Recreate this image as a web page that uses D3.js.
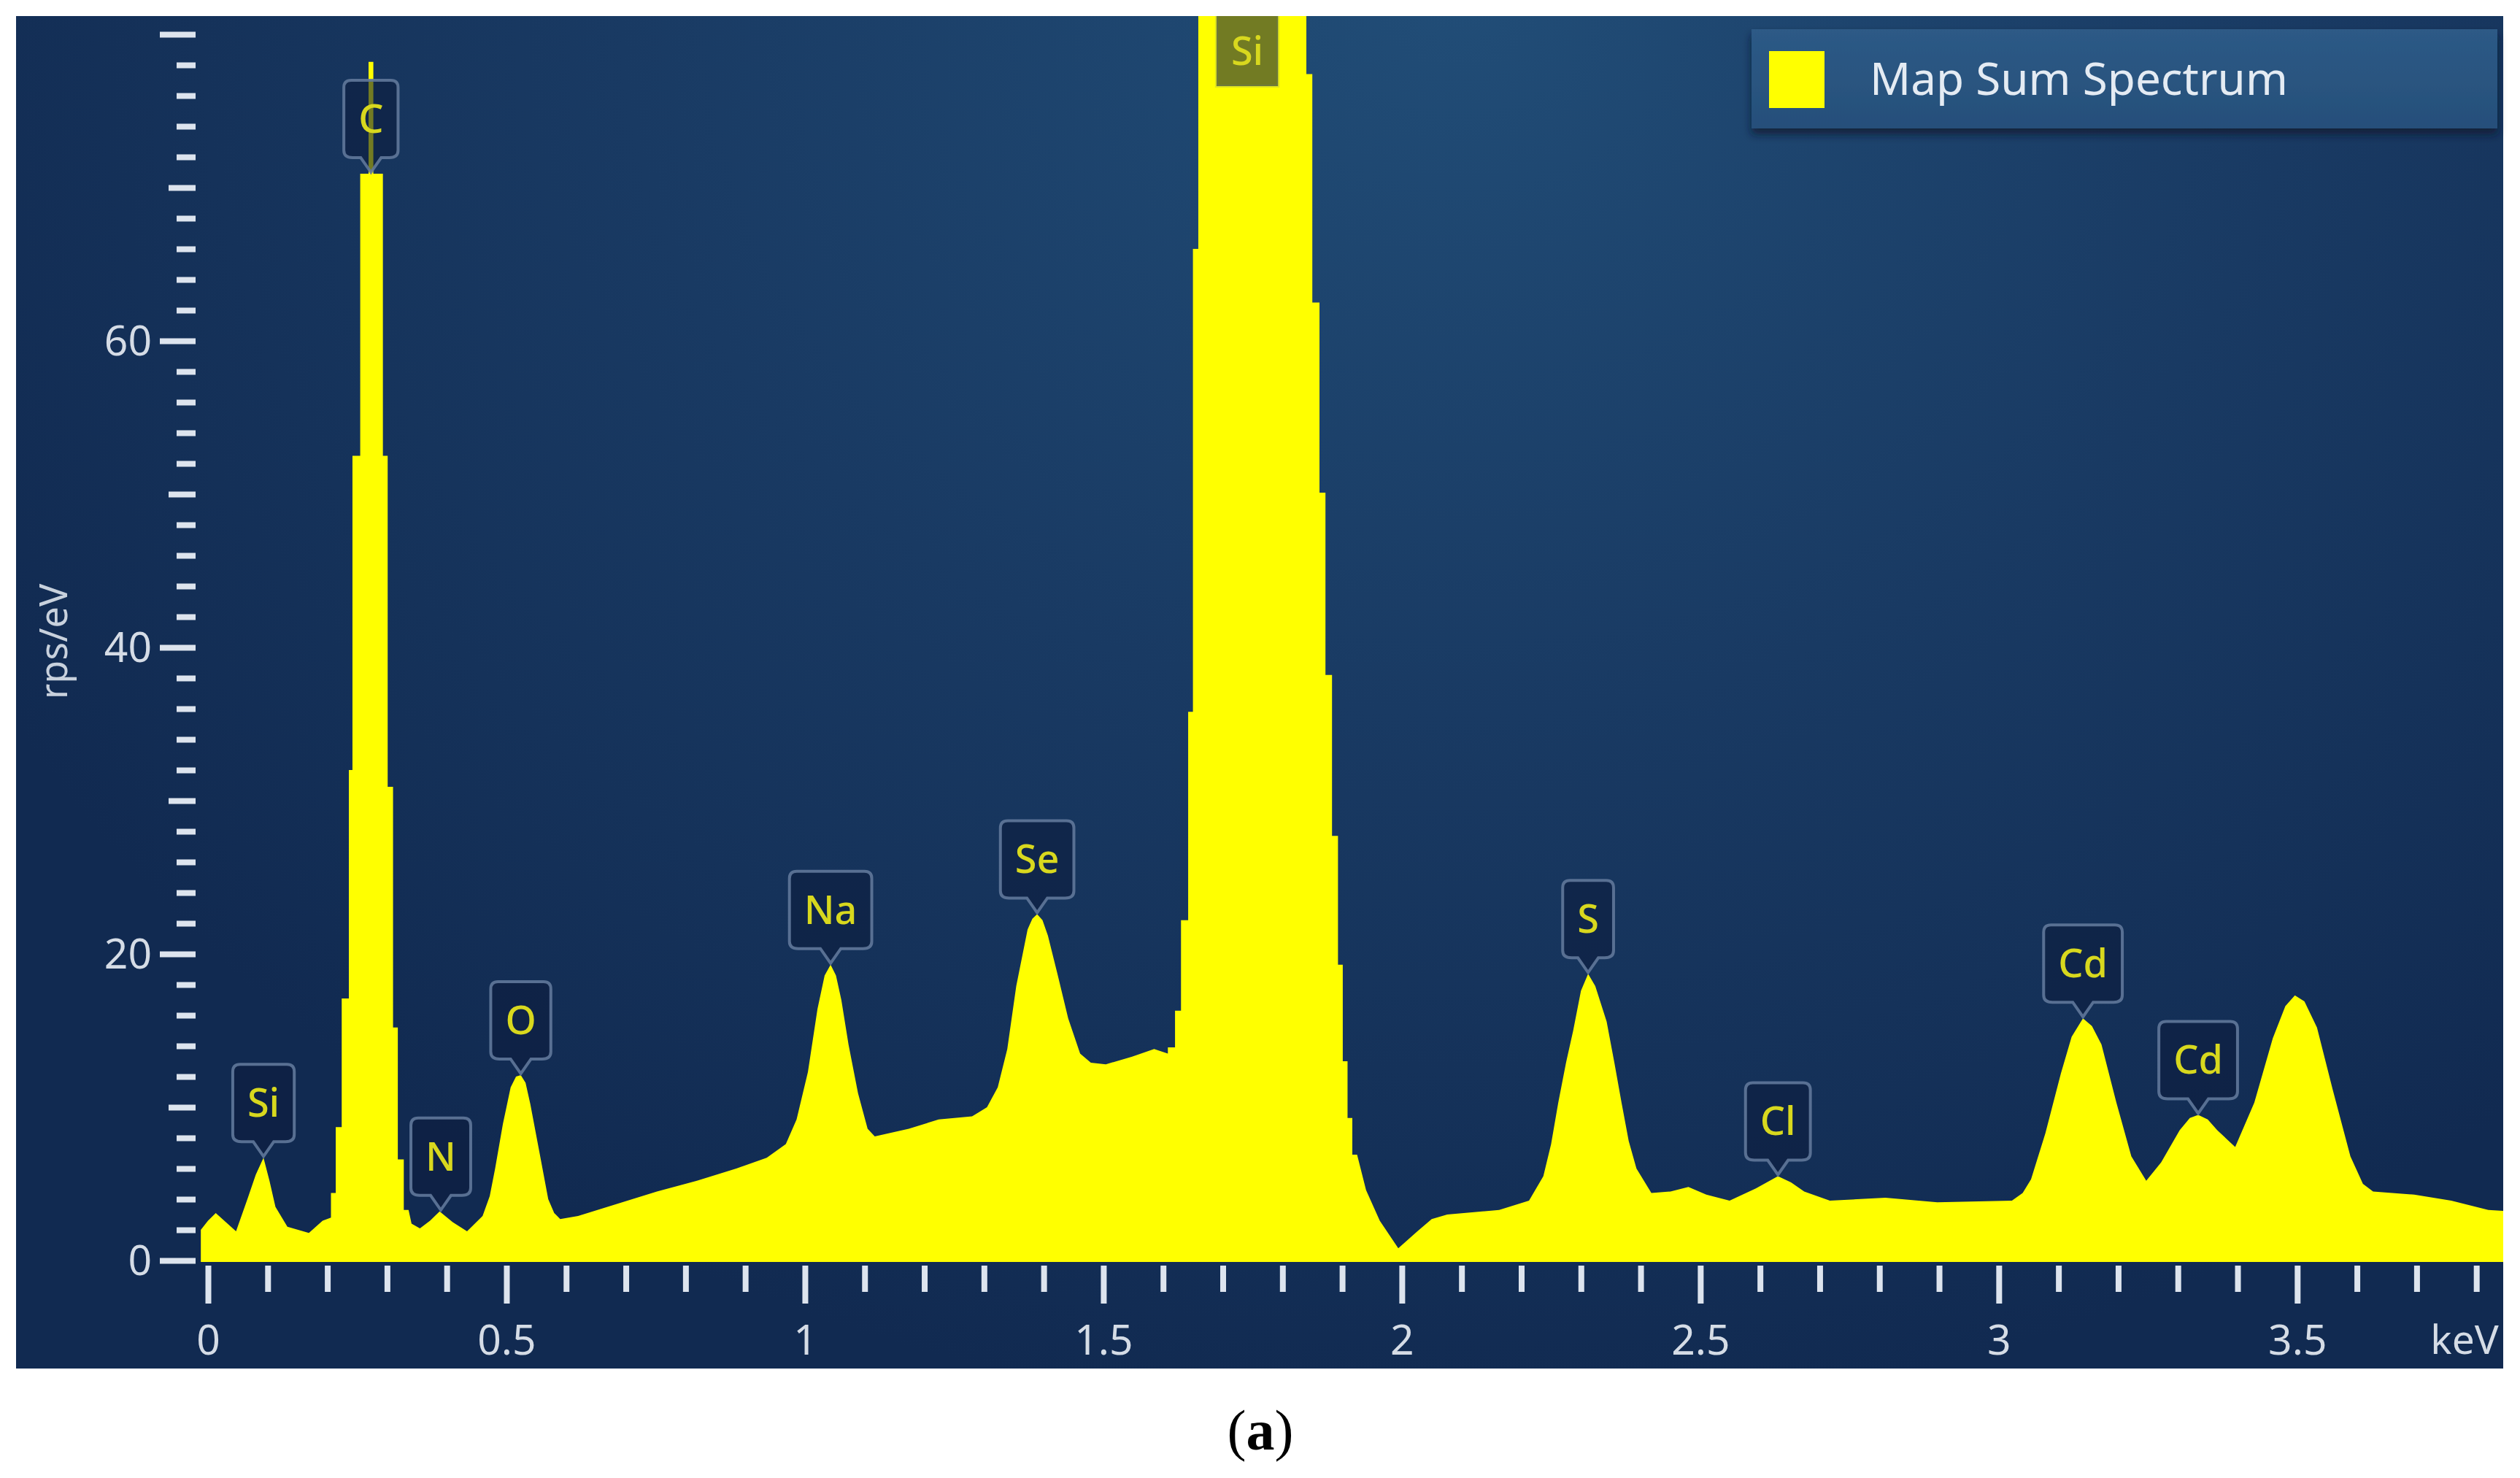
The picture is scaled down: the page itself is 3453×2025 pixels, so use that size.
<!DOCTYPE html>
<html>
<head>
<meta charset="utf-8">
<script src="https://cdn.jsdelivr.net/npm/d3@7"></script>
<style>
body { margin: 0; background: #ffffff; }
svg { display: block; }
.axis .tick text { font-family: "Noto Sans", sans-serif; fill: #d5dce6; }
</style>
</head>
<body>
<svg id="chart"></svg>
<script>
// EDS spectrum, values: [keV, rps/eV]
var spectrum = [
    [-0.012, 2.0], [0.000, 2.6], [0.013, 3.1], [0.030, 2.5], [0.047, 1.9], [0.066, 4.0],
    [0.080, 5.6], [0.093, 6.7], [0.103, 5.2], [0.113, 3.5], [0.133, 2.2], [0.169, 1.8],
    [0.192, 2.6], [0.206, 2.8], [0.206, 4.4], [0.214, 4.4], [0.214, 8.7], [0.224, 8.7],
    [0.224, 17.1], [0.236, 17.1], [0.236, 32.0], [0.242, 32.0], [0.242, 52.5], [0.255, 52.5],
    [0.255, 70.9], [0.269, 70.9], [0.269, 78.2], [0.277, 78.2], [0.277, 70.9], [0.293, 70.9],
    [0.293, 52.5], [0.301, 52.5], [0.301, 30.9], [0.310, 30.9], [0.310, 15.2], [0.318, 15.2],
    [0.318, 6.6], [0.328, 6.6], [0.328, 3.3], [0.336, 3.3], [0.341, 2.4], [0.355, 2.1],
    [0.372, 2.6], [0.388, 3.2], [0.410, 2.5], [0.434, 1.9], [0.460, 2.9], [0.472, 4.2],
    [0.481, 6.0], [0.494, 8.9], [0.507, 11.3], [0.516, 12.0], [0.524, 12.1], [0.532, 11.6],
    [0.540, 10.2], [0.556, 6.9], [0.570, 4.0], [0.580, 3.1], [0.590, 2.7], [0.620, 2.9],
    [0.686, 3.7], [0.752, 4.5], [0.819, 5.2], [0.885, 6.0], [0.936, 6.7], [0.968, 7.6],
    [0.986, 9.2], [1.005, 12.3], [1.021, 16.4], [1.033, 18.6], [1.043, 19.3], [1.052, 18.6],
    [1.061, 17.0], [1.073, 14.1], [1.089, 10.9], [1.105, 8.6], [1.117, 8.1], [1.174, 8.6],
    [1.224, 9.2], [1.280, 9.4], [1.305, 10.0], [1.323, 11.3], [1.339, 13.8], [1.354, 17.9],
    [1.373, 21.6], [1.381, 22.3], [1.389, 22.6], [1.398, 22.2], [1.407, 21.2], [1.423, 18.7],
    [1.441, 15.8], [1.461, 13.5], [1.479, 12.9], [1.504, 12.8], [1.548, 13.3], [1.585, 13.8],
    [1.608, 13.5], [1.608, 13.9], [1.620, 13.9], [1.620, 16.3], [1.630, 16.3], [1.630, 22.2],
    [1.642, 22.2], [1.642, 35.8], [1.650, 35.8], [1.650, 66.0], [1.659, 66.0], [1.659, 95],
    [1.700, 120], [1.750, 125], [1.800, 120], [1.840, 95], [1.840, 77.4], [1.850, 77.4],
    [1.850, 62.5], [1.862, 62.5], [1.862, 50.1], [1.872, 50.1], [1.872, 38.2], [1.883, 38.2],
    [1.883, 27.7], [1.893, 27.7], [1.893, 19.3], [1.901, 19.3], [1.901, 13.0], [1.909, 13.0],
    [1.909, 9.3], [1.917, 9.3], [1.917, 6.9], [1.925, 6.9], [1.940, 4.6], [1.963, 2.6],
    [1.994, 0.8], [2.026, 1.9], [2.050, 2.7], [2.076, 3.0], [2.163, 3.3], [2.213, 3.9],
    [2.237, 5.5], [2.250, 7.6], [2.262, 10.3], [2.275, 12.9], [2.287, 15.0], [2.300, 17.6],
    [2.312, 18.7], [2.324, 17.9], [2.343, 15.6], [2.356, 12.9], [2.368, 10.3], [2.380, 7.8],
    [2.393, 6.0], [2.418, 4.4], [2.450, 4.5], [2.480, 4.8], [2.510, 4.3], [2.549, 3.9],
    [2.593, 4.7], [2.630, 5.5], [2.652, 5.1], [2.674, 4.5], [2.717, 3.9], [2.810, 4.1],
    [2.897, 3.8], [3.022, 3.9], [3.040, 4.4], [3.054, 5.3], [3.078, 8.3], [3.104, 12.2],
    [3.122, 14.6], [3.141, 15.8], [3.156, 15.3], [3.172, 14.1], [3.197, 10.3], [3.222, 6.8],
    [3.247, 5.2], [3.272, 6.4], [3.303, 8.5], [3.320, 9.3], [3.334, 9.5], [3.350, 9.2],
    [3.366, 8.5], [3.396, 7.4], [3.428, 10.3], [3.459, 14.5], [3.480, 16.6], [3.496, 17.3],
    [3.512, 16.9], [3.533, 15.2], [3.559, 11.2], [3.589, 6.8], [3.610, 5.0], [3.627, 4.5],
    [3.696, 4.3], [3.758, 3.9], [3.820, 3.3], [3.857, 3.2]
];

// peak markers (null rate = peak runs off the top of the plot)
var peakNames = ["Si", "C", "N", "O", "Na", "Se", "Si", "S", "Cl", "Cd", "Cd"];
var peakKeV = [0.093, 0.273, 0.390, 0.524, 1.043, 1.389, 1.741, 2.312, 2.630, 3.141, 3.334];
var peakRate = [6.7, 70.9, 3.2, 12.1, 19.3, 22.6, null, 18.7, 5.5, 15.8, 9.5];

var xTickLabels = ["0", "0.5", "1", "1.5", "2", "2.5", "3", "3.5"];
var yTickLabels = ["0", "20", "40", "60"];
var xUnit = "keV";
var yTitle = "rps/eV";
var legendLabel = "Map Sum Spectrum";
var caption = "a";

// page and panel geometry
var width = 3453;
var height = 2025;
var panel = {left: 22, top: 22, right: 3430, bottom: 1875};
var plot = {left: 274, top: 22, right: 3430, bottom: 1730};

var svg = d3.select("#chart")
    .attr("width", width)
    .attr("height", height);

var defs = svg.append("defs");

var bg = defs.append("radialGradient")
    .attr("id", "bg")
    .attr("gradientUnits", "userSpaceOnUse")
    .attr("cx", 2000).attr("cy", 0).attr("r", 2300)
    .attr("gradientTransform", "translate(2000,0) scale(1,0.85) translate(-2000,0)");
bg.append("stop").attr("offset", "0%").attr("stop-color", "#214d77");
bg.append("stop").attr("offset", "50%").attr("stop-color", "#193a63");
bg.append("stop").attr("offset", "100%").attr("stop-color", "#112a51");

var lg = defs.append("linearGradient")
    .attr("id", "legendFill")
    .attr("x1", 0).attr("y1", 0).attr("x2", 0).attr("y2", 1);
lg.append("stop").attr("offset", "0%").attr("stop-color", "#2d5a86");
lg.append("stop").attr("offset", "100%").attr("stop-color", "#264f7a");

var shadow = defs.append("filter")
    .attr("id", "shadow")
    .attr("x", "-5%").attr("y", "-20%").attr("width", "110%").attr("height", "160%");
shadow.append("feDropShadow")
    .attr("dx", 0).attr("dy", 8)
    .attr("stdDeviation", 6)
    .attr("flood-color", "#071733")
    .attr("flood-opacity", 0.8);

defs.append("clipPath")
    .attr("id", "plotClip")
    .append("rect")
    .attr("x", plot.left)
    .attr("y", plot.top)
    .attr("width", plot.right - plot.left)
    .attr("height", plot.bottom - plot.top);

// panel background
svg.append("rect")
    .attr("x", panel.left)
    .attr("y", panel.top)
    .attr("width", panel.right - panel.left)
    .attr("height", panel.bottom - panel.top)
    .attr("fill", "url(#bg)");

var x = d3.scaleLinear()
    .domain([0, 3.845])
    .range([285, 3430]);

var y = d3.scaleLinear()
    .domain([0, 80])
    .range([1727, 47]);

// spectrum fill
var area = d3.area()
    .x(function(d) { return x(d[0]); })
    .y0(y(0) + 2)
    .y1(function(d) { return y(d[1]); });

svg.append("path")
    .datum(spectrum)
    .attr("clip-path", "url(#plotClip)")
    .attr("fill", "#ffff00")
    .attr("d", area);

// y axis: ticks every 2, longer every 10 and 20
var yTicks = d3.range(0, 41).map(function(i) { return i * 2; });
var yAxis = d3.axisLeft(y)
    .tickValues(yTicks)
    .tickFormat(function(d) {
        return (d % 20 === 0 && d / 20 < yTickLabels.length) ? yTickLabels[d / 20] : "";
    });

var yg = svg.append("g")
    .attr("class", "axis")
    .attr("transform", "translate(268,0)")
    .call(yAxis);
yg.select(".domain").remove();
yg.selectAll(".tick line")
    .attr("stroke", "#dde4ee")
    .attr("stroke-width", 8)
    .attr("x2", function(d) { return d % 20 === 0 ? -49 : (d % 10 === 0 ? -37 : -26); });
yg.selectAll(".tick text")
    .attr("x", -60)
    .attr("dy", "0.35em")
    .style("font-size", "57px");

// x axis: ticks every 0.1 keV, labelled every 0.5
var xTicks = d3.range(0, 39).map(function(i) { return i / 10; });
var xAxis = d3.axisBottom(x)
    .tickValues(xTicks)
    .tickFormat(function(d, i) { return i % 5 === 0 ? xTickLabels[i / 5] : ""; });

var xg = svg.append("g")
    .attr("class", "axis")
    .attr("transform", "translate(0,1734)")
    .call(xAxis);
xg.select(".domain").remove();
xg.selectAll(".tick line")
    .attr("stroke", "#dde4ee")
    .attr("stroke-width", 8)
    .attr("y2", function(d, i) { return i % 5 === 0 ? 52 : 36; });
xg.selectAll(".tick text")
    .attr("y", 102)
    .attr("dy", "0.35em")
    .style("font-size", "57px");

xg.append("text")
    .attr("x", 3377)
    .attr("y", 102)
    .attr("dy", "0.35em")
    .attr("text-anchor", "middle")
    .style("font-family", "'Noto Sans', sans-serif")
    .style("font-size", "55px")
    .attr("fill", "#d5dce6")
    .text(xUnit);

// y axis title
svg.append("text")
    .attr("transform", "translate(74,879) rotate(-90)")
    .attr("text-anchor", "middle")
    .attr("dy", "0.35em")
    .style("font-family", "'Noto Sans', sans-serif")
    .style("font-size", "52px")
    .attr("fill", "#c8d1dd")
    .text(yTitle);

// peak labels
var labels = svg.append("g").attr("clip-path", "url(#plotClip)");

peakNames.forEach(function(name, i) {
    var cx = x(peakKeV[i]);
    var g = labels.append("g");
    var txt = g.append("text")
        .attr("x", cx)
        .attr("text-anchor", "middle")
        .attr("dy", "0.35em")
        .style("font-family", "'Noto Sans', sans-serif")
        .style("font-size", "54px")
        .style("font-weight", 500)
        .attr("fill", "#d8d81e")
        .text(name);
    var w = Math.max(txt.node().getComputedTextLength() + 40, 66);
    var l = cx - w / 2, r = cx + w / 2;
    var top, bottom, d, textY;

    if (peakRate[i] === null) {
        bottom = plot.top + 96;
        top = bottom - 110;
        textY = (plot.top + bottom) / 2;
        d = "M" + l + "," + top + "H" + r + "V" + bottom + "H" + l + "Z";
    } else {
        var tip = y(peakRate[i]) - 2;
        bottom = tip - 20;
        top = bottom - 106;
        textY = (top + bottom) / 2;
        d = "M" + (l + 10) + "," + top +
            "H" + (r - 10) +
            "Q" + r + "," + top + " " + r + "," + (top + 10) +
            "V" + (bottom - 10) +
            "Q" + r + "," + bottom + " " + (r - 12) + "," + bottom +
            "L" + (cx + 14) + "," + bottom +
            "L" + cx + "," + tip +
            "L" + (cx - 14) + "," + bottom +
            "L" + (l + 12) + "," + bottom +
            "Q" + l + "," + bottom + " " + l + "," + (bottom - 10) +
            "V" + (top + 10) +
            "Q" + l + "," + top + " " + (l + 10) + "," + top + "Z";
    }

    g.insert("path", "text")
        .attr("d", d)
        .attr("fill", "rgba(12,28,60,0.58)")
        .attr("stroke", "#60789a")
        .attr("stroke-opacity", peakRate[i] === null ? 0.2 : 0.9)
        .attr("stroke-width", 4);
    txt.attr("y", textY);
});

// legend
var legend = svg.append("g")
    .attr("transform", "translate(2400,40)");

legend.append("rect")
    .attr("width", 1022)
    .attr("height", 136)
    .attr("fill", "url(#legendFill)")
    .attr("filter", "url(#shadow)");

legend.append("rect")
    .attr("x", 24)
    .attr("y", 30)
    .attr("width", 76)
    .attr("height", 78)
    .attr("fill", "#ffff00");

legend.append("text")
    .attr("x", 162)
    .attr("y", 68)
    .attr("dy", "0.35em")
    .style("font-family", "'Noto Sans', sans-serif")
    .style("font-size", "62px")
    .attr("fill", "#e4ebf3")
    .text(legendLabel);

// figure caption
var cap = svg.append("text")
    .attr("x", 1727)
    .attr("y", 1986)
    .attr("text-anchor", "middle")
    .style("font-family", "'Liberation Serif', serif")
    .style("font-size", "78px")
    .attr("fill", "#000");
cap.append("tspan").text("(");
cap.append("tspan").style("font-weight", "bold").text(caption);
cap.append("tspan").text(")");
</script>
</body>
</html>
